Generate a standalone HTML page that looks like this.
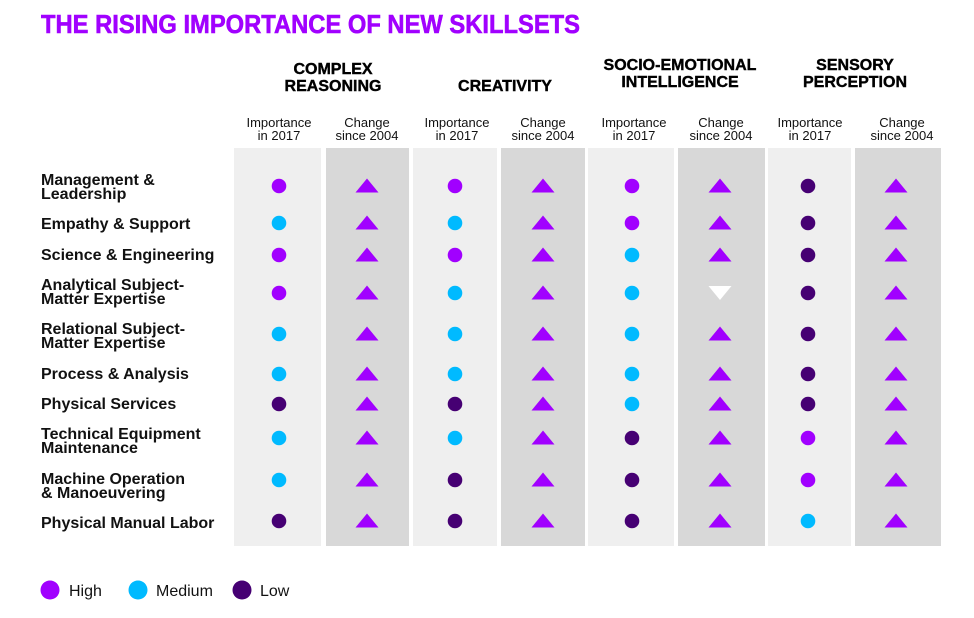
<!DOCTYPE html>
<html><head><meta charset="utf-8"><style>
html,body{margin:0;padding:0;background:#fff;}
svg{display:block;font-family:"Liberation Sans",sans-serif;}
</style></head><body>
<svg width="974" height="618" viewBox="0 0 974 618" xmlns="http://www.w3.org/2000/svg">
<defs>
<polygon id="t" points="-11.5,6.5 11.5,6.5 0,-7.5" fill="#a100ff"/>
</defs>
<text x="41" y="33" font-size="26" font-weight="bold" fill="#a100ff" stroke="#a100ff" stroke-width="0.6" textLength="539" lengthAdjust="spacingAndGlyphs">THE RISING IMPORTANCE OF NEW SKILLSETS</text>
<g font-size="16" font-weight="bold" fill="#000" stroke="#000" stroke-width="0.4" text-anchor="middle">
<text x="333" y="74">COMPLEX</text><text x="333" y="91">REASONING</text>
<text x="505" y="91">CREATIVITY</text>
<text x="680" y="70">SOCIO-EMOTIONAL</text><text x="680" y="87">INTELLIGENCE</text>
<text x="855" y="70">SENSORY</text><text x="855" y="87">PERCEPTION</text>
</g>
<g font-size="13" fill="#111" text-anchor="middle">
<text x="279" y="127">Importance</text><text x="279" y="140">in 2017</text>
<text x="367" y="127">Change</text><text x="367" y="140">since 2004</text>
<text x="457" y="127">Importance</text><text x="457" y="140">in 2017</text>
<text x="543" y="127">Change</text><text x="543" y="140">since 2004</text>
<text x="634" y="127">Importance</text><text x="634" y="140">in 2017</text>
<text x="721" y="127">Change</text><text x="721" y="140">since 2004</text>
<text x="810" y="127">Importance</text><text x="810" y="140">in 2017</text>
<text x="902" y="127">Change</text><text x="902" y="140">since 2004</text>
</g>
<g>
<rect x="234" y="148" width="87" height="398" fill="#efefef"/>
<rect x="326" y="148" width="83" height="398" fill="#d8d8d8"/>
<rect x="413" y="148" width="84" height="398" fill="#efefef"/>
<rect x="501" y="148" width="84" height="398" fill="#d8d8d8"/>
<rect x="588" y="148" width="86" height="398" fill="#efefef"/>
<rect x="678" y="148" width="87" height="398" fill="#d8d8d8"/>
<rect x="768" y="148" width="83" height="398" fill="#efefef"/>
<rect x="855" y="148" width="86" height="398" fill="#d8d8d8"/>
</g>
<g font-size="16" font-weight="bold" fill="#111">
<text x="41" y="185">Management &amp;</text><text x="41" y="199">Leadership</text>
<text x="41" y="229">Empathy &amp; Support</text>
<text x="41" y="260">Science &amp; Engineering</text>
<text x="41" y="290">Analytical Subject-</text><text x="41" y="304">Matter Expertise</text>
<text x="41" y="334">Relational Subject-</text><text x="41" y="348">Matter Expertise</text>
<text x="41" y="379">Process &amp; Analysis</text>
<text x="41" y="409">Physical Services</text>
<text x="41" y="439">Technical Equipment</text><text x="41" y="453">Maintenance</text>
<text x="41" y="484">Machine Operation</text><text x="41" y="498">&amp; Manoeuvering</text>
<text x="41" y="528">Physical Manual Labor</text>
</g>
<g>
<!-- triangles -->
<use href="#t" x="367" y="186"/><use href="#t" x="543" y="186"/><use href="#t" x="720" y="186"/><use href="#t" x="896" y="186"/>
<use href="#t" x="367" y="223"/><use href="#t" x="543" y="223"/><use href="#t" x="720" y="223"/><use href="#t" x="896" y="223"/>
<use href="#t" x="367" y="255"/><use href="#t" x="543" y="255"/><use href="#t" x="720" y="255"/><use href="#t" x="896" y="255"/>
<use href="#t" x="367" y="293"/><use href="#t" x="543" y="293"/><polygon points="708.5,286 731.5,286 720,300" fill="#fff"/><use href="#t" x="896" y="293"/>
<use href="#t" x="367" y="334"/><use href="#t" x="543" y="334"/><use href="#t" x="720" y="334"/><use href="#t" x="896" y="334"/>
<use href="#t" x="367" y="374"/><use href="#t" x="543" y="374"/><use href="#t" x="720" y="374"/><use href="#t" x="896" y="374"/>
<use href="#t" x="367" y="404"/><use href="#t" x="543" y="404"/><use href="#t" x="720" y="404"/><use href="#t" x="896" y="404"/>
<use href="#t" x="367" y="438"/><use href="#t" x="543" y="438"/><use href="#t" x="720" y="438"/><use href="#t" x="896" y="438"/>
<use href="#t" x="367" y="480"/><use href="#t" x="543" y="480"/><use href="#t" x="720" y="480"/><use href="#t" x="896" y="480"/>
<use href="#t" x="367" y="521"/><use href="#t" x="543" y="521"/><use href="#t" x="720" y="521"/><use href="#t" x="896" y="521"/>
<!-- circles -->
<circle cx="279" cy="186" r="7.3" fill="#a100ff"/><circle cx="455" cy="186" r="7.3" fill="#a100ff"/><circle cx="632" cy="186" r="7.3" fill="#a100ff"/><circle cx="808" cy="186" r="7.3" fill="#460073"/>
<circle cx="279" cy="223" r="7.3" fill="#00baff"/><circle cx="455" cy="223" r="7.3" fill="#00baff"/><circle cx="632" cy="223" r="7.3" fill="#a100ff"/><circle cx="808" cy="223" r="7.3" fill="#460073"/>
<circle cx="279" cy="255" r="7.3" fill="#a100ff"/><circle cx="455" cy="255" r="7.3" fill="#a100ff"/><circle cx="632" cy="255" r="7.3" fill="#00baff"/><circle cx="808" cy="255" r="7.3" fill="#460073"/>
<circle cx="279" cy="293" r="7.3" fill="#a100ff"/><circle cx="455" cy="293" r="7.3" fill="#00baff"/><circle cx="632" cy="293" r="7.3" fill="#00baff"/><circle cx="808" cy="293" r="7.3" fill="#460073"/>
<circle cx="279" cy="334" r="7.3" fill="#00baff"/><circle cx="455" cy="334" r="7.3" fill="#00baff"/><circle cx="632" cy="334" r="7.3" fill="#00baff"/><circle cx="808" cy="334" r="7.3" fill="#460073"/>
<circle cx="279" cy="374" r="7.3" fill="#00baff"/><circle cx="455" cy="374" r="7.3" fill="#00baff"/><circle cx="632" cy="374" r="7.3" fill="#00baff"/><circle cx="808" cy="374" r="7.3" fill="#460073"/>
<circle cx="279" cy="404" r="7.3" fill="#460073"/><circle cx="455" cy="404" r="7.3" fill="#460073"/><circle cx="632" cy="404" r="7.3" fill="#00baff"/><circle cx="808" cy="404" r="7.3" fill="#460073"/>
<circle cx="279" cy="438" r="7.3" fill="#00baff"/><circle cx="455" cy="438" r="7.3" fill="#00baff"/><circle cx="632" cy="438" r="7.3" fill="#460073"/><circle cx="808" cy="438" r="7.3" fill="#a100ff"/>
<circle cx="279" cy="480" r="7.3" fill="#00baff"/><circle cx="455" cy="480" r="7.3" fill="#460073"/><circle cx="632" cy="480" r="7.3" fill="#460073"/><circle cx="808" cy="480" r="7.3" fill="#a100ff"/>
<circle cx="279" cy="521" r="7.3" fill="#460073"/><circle cx="455" cy="521" r="7.3" fill="#460073"/><circle cx="632" cy="521" r="7.3" fill="#460073"/><circle cx="808" cy="521" r="7.3" fill="#00baff"/>
</g>
<circle cx="50" cy="590" r="9.5" fill="#a100ff"/>
<text x="69" y="596" font-size="16" fill="#111">High</text>
<circle cx="138" cy="590" r="9.5" fill="#00baff"/>
<text x="156" y="596" font-size="16" fill="#111">Medium</text>
<circle cx="242" cy="590" r="9.5" fill="#460073"/>
<text x="260" y="596" font-size="16" fill="#111">Low</text>
</svg>
</body></html>
